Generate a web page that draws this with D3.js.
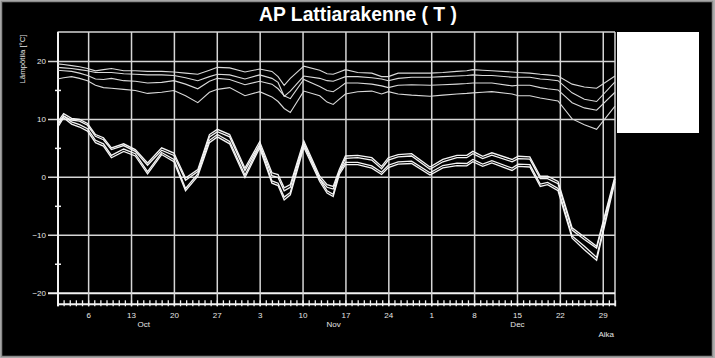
<!DOCTYPE html>
<html><head><meta charset="utf-8">
<script src="https://cdn.jsdelivr.net/npm/d3@7"></script>
<style>
html,body{margin:0;padding:0;background:#b0b0b0;}
svg{display:block;font-family:"Liberation Sans",Arial,sans-serif;}
</style></head>
<body>
<svg id="c" width="715" height="358"></svg>
<script>
// ---- data ----
const startDate = "2008-10-01";
const endDate = "2008-12-31";
const dayOffsets = [0,1,2.3,3.6,4.9,6.2,7.5,8.8,10.8,12.7,14.7,17,19,20.9,22.9,24.8,26.1,28.1,30.6,33,35,36,37,38,40.2,42.8,44,45,46,47,49,51.3,52.9,54,55.6,57.8,60.8,62.9,65.2,66.8,67.8,69.4,70.9,74.2,75.2,77.1,78.8,80,81.7,84,86,88,91];
const u1 = [19.5,19.4,19.2,19.0,18.7,18.3,18.5,18.7,18.3,18.3,18.2,18.2,18.1,17.9,17.7,18.4,18.9,18.8,18.1,18.6,18.2,17.3,15.8,17.0,19.1,18.4,17.8,17.7,18.1,18.5,18.0,17.9,17.3,17.3,17.9,17.9,17.9,18.0,18.2,18.3,18.5,18.4,18.3,18.1,18.0,17.9,17.7,17.6,17.4,16.0,15.5,15.3,17.4];
const u2 = [18.9,18.8,18.7,18.5,18.3,18.0,18.0,18.0,17.8,17.7,17.6,17.6,17.5,17.1,16.6,17.3,17.7,17.6,16.9,17.6,17.0,16.3,13.9,14.8,17.4,17.0,16.6,16.5,16.9,17.3,17.3,17.1,16.9,16.6,17.0,17.2,17.2,17.3,17.4,17.5,17.6,17.5,17.5,17.2,17.2,17.2,16.9,16.8,16.6,14.5,13.4,13.0,16.4];
const u3 = [18.4,18.3,18.2,17.9,17.5,16.9,16.8,17.0,16.6,16.5,16.2,16.3,16.6,16.0,15.2,16.5,17.0,16.8,15.9,16.5,16.0,15.2,14.0,13.5,16.8,15.6,14.9,14.7,15.4,16.2,16.2,16.0,15.7,15.4,15.8,15.9,15.8,15.9,16.0,16.1,16.2,16.2,16.2,15.7,15.8,15.8,15.4,15.2,15.0,12.8,11.9,11.5,14.6];
const u4 = [16.9,17.1,17.3,17.0,16.6,15.8,15.4,15.3,15.1,14.9,14.4,14.6,14.9,14.0,12.8,14.6,15.1,15.4,14.0,14.7,13.8,13.0,11.8,11.1,14.8,14.0,12.9,12.5,13.4,14.3,14.7,14.8,14.3,14.7,14.3,14.1,13.9,14.1,14.3,14.4,14.5,14.6,14.7,14.3,14.0,14.0,13.6,13.4,13.1,10.0,9.0,8.2,12.2];
const l1 = [9.4,10.9,10.1,9.9,9.2,7.3,6.75,5.0,5.7,4.7,2.4,5.0,4.1,-0.2,1.25,7.3,8.2,7.3,1.5,6.05,0.7,0.4,-1.9,-1.35,6.2,0.1,-1.35,-1.65,1.25,3.6,3.7,3.3,1.8,3.3,3.85,4.0,1.7,3.0,3.7,3.7,4.4,3.55,4.15,3.0,3.55,3.45,0.1,0.1,-0.8,-8.8,-10.4,-12.0,0.1];
const l2 = [9.0,10.5,9.8,9.6,8.9,7.0,6.4,4.7,5.4,4.4,2.0,4.6,3.7,-0.6,0.9,6.9,7.8,6.9,1.1,5.6,0.2,-0.1,-2.4,-1.8,5.8,-0.3,-1.8,-2.1,0.8,3.2,3.3,2.9,1.4,2.9,3.45,3.6,1.3,2.6,3.3,3.3,4.0,3.15,3.75,2.6,3.15,3.05,-0.3,-0.3,-1.2,-9.2,-10.8,-12.3,-0.3];
const l3 = [8.9,10.5,9.5,9.0,8.3,6.3,5.7,3.7,4.8,4.0,0.9,4.2,3.0,-2.0,0.5,6.3,7.3,6.1,0.3,5.4,-0.7,-1.1,-3.5,-2.7,5.5,-0.4,-2.4,-3.0,0.8,2.5,2.5,1.9,0.8,2.0,2.6,2.7,0.7,1.95,2.35,2.3,3.0,2.2,2.8,1.5,2.2,2.1,-1.25,-0.95,-2.0,-10.2,-12.0,-13.9,-0.3];
const l4 = [8.5,10.2,9.1,8.6,7.9,5.9,5.3,3.3,4.4,3.6,0.5,3.85,2.6,-2.4,0.1,5.9,6.9,5.7,-0.1,5.0,-1.1,-1.5,-4.0,-3.1,5.1,-0.8,-2.8,-3.4,0.4,2.1,2.1,1.5,0.4,1.6,2.2,2.3,0.3,1.55,1.95,1.9,2.6,1.8,2.4,1.1,1.8,1.7,-1.65,-1.35,-2.4,-10.6,-12.6,-14.4,-0.8];
const yMajorTicks = [20,10,0,-10,-20];
const yMinorTicks = [15,5,-5,-15];
const monthLabelDates = ["2008-10-15","2008-11-15","2008-12-15"];
const titleText = "AP Lattiarakenne ( T )";
const yLabelText = "Lämpötila [°C]";
const xLabelText = "Aika";

// ---- layout ----
const svg = d3.select("#c");
const L = 57.5, R = 615, T = 32, B = 304.3;
const t0 = new Date(startDate + "T00:00:00Z");
const x = d3.scaleUtc().domain([t0, new Date(endDate + "T00:00:00Z")]).range([L, R]);
const y = d3.scaleLinear().domain([-22, 25]).range([B, T]);
const toDate = d => new Date(t0.getTime() + d * 864e5);

svg.append("rect").attr("x",1.5).attr("y",1.5).attr("width",711).attr("height",355)
  .attr("fill","#000").attr("stroke","#8a8a8a").attr("stroke-width",1.5);

const gridCol = "#d6d6d6";

// top & right plot borders
svg.append("line").attr("x1",L).attr("x2",R).attr("y1",T).attr("y2",T).attr("stroke",gridCol).attr("stroke-width",1.5);
svg.append("line").attr("x1",R).attr("x2",R).attr("y1",T).attr("y2",B+2).attr("stroke",gridCol).attr("stroke-width",1.5);

// horizontal gridlines with labels
const gy = svg.append("g").attr("transform",`translate(48,0)`)
  .call(d3.axisLeft(y).tickValues(yMajorTicks).tickSize(-(R-48)).tickPadding(2));
gy.select(".domain").remove();
gy.selectAll(".tick line").attr("stroke",gridCol).attr("stroke-width",1.5);
gy.selectAll(".tick text").attr("fill","#e6e6e6").attr("font-size",8).attr("font-family","Liberation Sans, Arial, sans-serif");
gy.selectAll(".tick").filter(d=>d===-20).select("line").attr("stroke","#f2f2f2").attr("stroke-width",2);

// vertical weekly gridlines with labels
const gx = svg.append("g").attr("transform",`translate(0,${B+2})`)
  .call(d3.axisBottom(x).ticks(d3.utcMonday.every(1)).tickSize(-(B+2-T)).tickPadding(6.3)
    .tickFormat(d3.utcFormat("%-d")));
gx.select(".domain").remove();
gx.selectAll(".tick line").attr("stroke",gridCol).attr("stroke-width",1.5);
gx.selectAll(".tick text").attr("fill","#e6e6e6").attr("font-size",8).attr("font-family","Liberation Sans, Arial, sans-serif");

// daily minor ticks
const gd = svg.append("g").attr("transform",`translate(0,${B-4})`)
  .call(d3.axisBottom(x).ticks(d3.utcDay.every(1)).tickSize(6).tickFormat(""));
gd.select(".domain").remove();
gd.selectAll(".tick line").attr("stroke","#f0f0f0").attr("stroke-width",1.3);

// month labels
const gm = svg.append("g").attr("transform",`translate(0,${B+2})`)
  .call(d3.axisBottom(x).tickValues(monthLabelDates.map(s=>new Date(s+"T00:00:00Z"))).tickSize(0).tickPadding(15.5)
    .tickFormat(d3.utcFormat("%b")));
gm.select(".domain").remove();
gm.selectAll(".tick text").attr("fill","#e6e6e6").attr("font-size",8).attr("font-family","Liberation Sans, Arial, sans-serif");

// axis lines
svg.append("line").attr("x1",L).attr("x2",R).attr("y1",B).attr("y2",B).attr("stroke","#f2f2f2").attr("stroke-width",2);
svg.append("line").attr("x1",58).attr("x2",58).attr("y1",T).attr("y2",B+2).attr("stroke","#f2f2f2").attr("stroke-width",2);

// y minor ticks
const gym = svg.append("g").attr("transform",`translate(61,0)`)
  .call(d3.axisLeft(y).tickValues(yMinorTicks).tickSize(6).tickFormat(""));
gym.select(".domain").remove();
gym.selectAll(".tick line").attr("stroke","#f2f2f2").attr("stroke-width",1.5);

// series
const line = d3.line().x((v,i)=>x(toDate(dayOffsets[i]))).y(v=>y(v));
[u1,u2,u3,u4].forEach(s=>{
  svg.append("path").datum(s).attr("d",line).attr("fill","none").attr("stroke","#d9d9d9").attr("stroke-width",1.1);
});
[l1,l2,l3,l4].forEach(s=>{
  svg.append("path").datum(s).attr("d",line).attr("fill","none").attr("stroke","#f4f4f4").attr("stroke-width",1.3);
});

// legend box
svg.append("rect").attr("x",617).attr("y",32).attr("width",82).attr("height",101).attr("fill","#fff");

// texts
svg.append("text").attr("x",358).attr("y",20.7).attr("text-anchor","middle")
  .attr("font-size",19.3).attr("font-weight","bold").attr("fill","#fff").text(titleText);
svg.append("text").attr("transform","translate(24.5,59) rotate(-90)").attr("text-anchor","middle")
  .attr("font-size",7.8).attr("fill","#e6e6e6").text(yLabelText);
svg.append("text").attr("x",614).attr("y",337.3).attr("text-anchor","end")
  .attr("font-size",8).attr("fill","#e6e6e6").text(xLabelText);
</script>
</body></html>
